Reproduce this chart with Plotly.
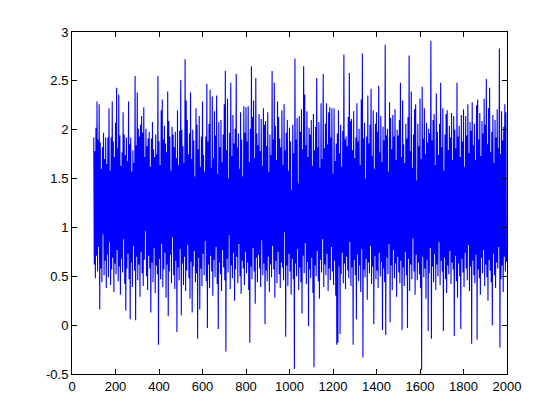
import numpy as np
import plotly.graph_objects as go

# Sample window: 100 .. 2000, read column by column as (upper, lower) envelope values
x_start = 100
x_step = 5

highs = [
    1.92, 1.78, 2.02, 2.29, 1.90, 2.26, 1.87, 1.60, 1.82, 1.97, 1.70, 1.92, 1.65, 1.92, 2.22, 1.58, 1.92, 2.29, 1.88, 1.72,
    2.07, 2.43, 1.81, 2.36, 1.94, 1.63, 1.77, 2.18, 1.95, 1.74, 1.92, 1.68, 2.29, 1.85, 1.92, 1.57, 1.79, 1.66, 2.55, 1.84,
    2.38, 2.01, 1.93, 2.05, 2.14, 1.97, 2.23, 1.72, 2.01, 1.83, 1.91, 1.98, 1.62, 1.91, 2.08, 1.80, 1.72, 1.95, 1.75, 2.55,
    1.88, 1.64, 2.20, 2.31, 1.90, 2.04, 1.86, 1.77, 2.39, 2.09, 1.93, 1.58, 2.03, 1.95, 1.82, 1.98, 1.71, 2.20, 1.64, 1.99,
    2.51, 2.00, 1.83, 1.66, 2.72, 2.30, 2.10, 1.75, 1.96, 2.38, 1.70, 2.00, 1.89, 1.52, 2.22, 2.05, 1.80, 2.14, 1.62, 1.93,
    2.29, 1.74, 1.57, 1.93, 2.47, 1.88, 2.06, 2.41, 1.61, 2.34, 1.71, 2.19, 1.94, 2.35, 1.55, 2.08, 1.82, 2.10, 1.67, 1.95,
    2.26, 2.60, 1.79, 2.32, 1.50, 1.97, 2.48, 1.73, 2.15, 1.86, 2.01, 2.57, 1.82, 1.96, 1.60, 2.18, 1.90, 1.52, 2.24, 1.97,
    2.23, 1.88, 2.24, 1.67, 2.01, 2.65, 2.13, 2.30, 1.71, 2.53, 1.96, 1.84, 2.16, 1.78, 2.11, 1.63, 2.22, 2.05, 2.09, 1.83,
    2.18, 1.57, 1.95, 1.74, 2.60, 1.90, 2.48, 2.04, 1.69, 2.29, 2.13, 1.91, 1.82, 2.20, 1.64, 2.26, 1.79, 1.97, 2.10, 1.58,
    2.02, 1.88, 1.38, 2.05, 1.76, 2.73, 1.90, 2.12, 1.45, 2.14, 1.98, 2.21, 1.80, 2.65, 2.36, 1.84, 2.19, 1.72, 2.02, 1.95,
    2.10, 1.63, 2.16, 1.79, 2.03, 2.53, 1.82, 2.08, 1.61, 2.27, 1.70, 2.57, 1.81, 2.06, 2.27, 1.85, 2.18, 2.23, 1.92, 2.22,
    1.55, 2.22, 1.68, 1.86, 1.96, 2.20, 1.76, 2.05, 1.62, 1.99, 2.77, 1.90, 1.93, 1.83, 2.13, 2.58, 2.09, 2.11, 1.79, 2.19,
    1.71, 1.92, 2.27, 1.88, 2.01, 1.64, 2.31, 2.78, 1.91, 2.07, 1.50, 1.93, 2.35, 1.86, 2.05, 2.42, 1.73, 2.20, 1.60, 2.06,
    2.18, 1.98, 2.45, 1.77, 2.14, 1.67, 2.03, 1.89, 2.87, 1.94, 2.01, 1.57, 2.28, 2.12, 1.80, 2.15, 1.93, 2.21, 1.69, 2.00,
    1.94, 2.10, 2.48, 1.72, 2.30, 1.85, 1.66, 2.06, 1.91, 2.13, 2.76, 1.78, 2.39, 1.61, 1.95, 2.21, 2.26, 1.48, 2.06, 1.83,
    2.32, 1.70, 2.44, 1.91, 2.22, 1.75, 2.07, 1.87, 2.01, 1.96, 2.91, 1.89, 2.10, 2.16, 1.64, 2.37, 1.98, 1.74, 2.06, 2.48,
    1.82, 2.22, 1.58, 1.95, 2.16, 2.20, 1.79, 2.04, 1.92, 2.17, 1.69, 2.14, 2.00, 1.81, 2.48, 1.93, 2.04, 1.72, 2.15, 1.88,
    2.21, 1.62, 2.14, 1.94, 2.26, 1.76, 2.08, 1.99, 2.28, 1.84, 2.06, 1.69, 2.25, 2.31, 1.90, 2.17, 1.73, 2.09, 1.96, 2.32,
    2.05, 2.52, 1.85, 2.22, 2.43, 1.77, 1.98, 2.15, 1.66, 2.10, 1.92, 2.21, 1.81, 2.83, 1.75, 2.19, 1.89, 2.03, 2.26, 2.18,
]

lows = [
    0.62, 0.48, 0.71, 0.55, 0.80, 0.16, 0.58, 0.44, 0.93, 0.51, 0.66, 0.38, 0.72, 0.49, 0.85, 0.41, 0.57, 0.69, 0.34, 0.63,
    0.52, 0.77, 0.45, 0.60, 0.31, 0.68, 0.54, 0.88, 0.42, 0.15, 0.58, 0.73, 0.47, 0.06, 0.64, 0.39, 0.81, 0.56, 0.05, 0.70,
    0.46, 0.62, 0.29, 0.75, 0.53, 0.40, 0.67, 0.96, 0.50, 0.36, 0.71, 0.58, 0.13, 0.64, 0.44, 0.79, 0.33, 0.61, 0.52, -0.20,
    0.68, 0.47, 0.83, 0.39, 0.57, 0.74, 0.28, 0.62, 0.09, 0.55, 0.72, 0.43, 0.90, 0.51, 0.37, 0.66, -0.07, 0.59, 0.46, 0.78,
    0.10, 0.63, 0.41, 0.70, 0.35, 0.56, 0.82, 0.48, 0.27, 0.65, 0.13, 0.60, 0.76, 0.44, 0.53, -0.14, 0.69, 0.16, 0.58, 0.40,
    0.73, 0.51, 0.86, 0.45, -0.03, 0.62, 0.38, 0.71, 0.55, 0.30, 0.67, 0.49, 0.80, 0.42, -0.04, 0.64, 0.52, 0.35, 0.77, 0.59,
    0.46, -0.27, 0.68, 0.54, 0.92, 0.37, 0.61, 0.48, 0.74, 0.25, 0.57, 0.70, 0.43, 0.83, 0.50, 0.32, 0.66, 0.58, 0.41, 0.75,
    0.53, 0.64, 0.36, -0.18, 0.60, 0.47, 0.79, 0.55, 0.22, 0.69, 0.44, 0.72, 0.58, 0.39, 0.87, 0.51, 0.63, 0.01, 0.56, 0.45,
    0.70, 0.34, 0.62, 0.49, 0.81, 0.57, 0.28, 0.66, 0.43, 0.75, 0.52, 0.38, 0.64, 0.59, 0.46, 0.95, -0.12, 0.61, 0.40, 0.73,
    0.55, 0.31, 0.68, 0.47, -0.45, 0.63, 0.50, 0.78, 0.36, 0.59, 0.44, 0.12, 0.71, 0.53, 0.84, 0.42, 0.65, -0.01, 0.57, 0.48,
    0.69, 0.33, -0.43, 0.61, 0.50, 0.76, 0.45, 0.27, 0.67, 0.54, 0.88, 0.39, 0.62, 0.51, 0.73, 0.35, 0.58, 0.46, 0.80, 0.55,
    0.41, 0.66, 0.30, -0.20, -0.18, 0.60, -0.09, 0.52, 0.74, 0.43, 0.63, 0.37, 0.70, 0.56, 0.48, 0.85, 0.40, 0.59, -0.20, 0.67,
    0.51, 0.06, 0.72, 0.45, 0.61, 0.34, 0.78, -0.33, 0.57, 0.49, 0.68, 0.26, 0.64, 0.53, 0.81, 0.42, 0.60, 0.01, 0.71, 0.47,
    0.56, 0.38, 0.74, 0.50, 0.65, -0.05, 0.58, 0.44, -0.10, 0.69, 0.52, 0.83, 0.03, 0.61, 0.36, 0.77, 0.48, 0.63, 0.29, 0.70,
    0.54, 0.43, 0.66, -0.05, 0.59, 0.40, 0.75, 0.51, -0.03, 0.68, 0.35, 0.62, 0.47, 0.89, 0.55, 0.31, 0.72, 0.46, 0.64, 0.52,
    0.38, -0.46, 0.70, 0.49, 0.58, 0.27, 0.67, -0.06, 0.53, 0.79, -0.14, 0.60, 0.44, 0.73, 0.36, 0.62, 0.50, 0.85, 0.41, 0.66,
    0.55, -0.06, 0.69, 0.47, 0.33, 0.61, 0.52, 0.76, 0.42, 0.64, 0.57, -0.11, 0.71, 0.45, 0.28, 0.63, 0.50, -0.04, 0.68, 0.54,
    0.39, 0.74, 0.58, 0.46, 0.82, 0.35, 0.60, -0.19, 0.66, 0.51, 0.43, 0.72, -0.15, 0.57, 0.48, 0.31, 0.69, 0.53, 0.77, 0.40,
    0.62, 0.49, 0.25, 0.67, 0.56, 0.44, 0.00, 0.73, 0.51, 0.38, 0.64, 0.58, 0.80, -0.23, 0.47, 0.61, 0.34, 0.70, 0.55, 0.65,
]

x_tick_vals = [0, 200, 400, 600, 800, 1000, 1200, 1400, 1600, 1800, 2000]
x_tick_text = ["0", "200", "400", "600", "800", "1000", "1200", "1400", "1600", "1800", "2000"]
y_tick_vals = [-0.5, 0, 0.5, 1, 1.5, 2, 2.5, 3]
y_tick_text = ["-0.5", "0", "0.5", "1", "1.5", "2", "2.5", "3"]

# Interleave upper and lower envelope samples along the index axis
n = len(highs)
idx = np.arange(n)
x_hi = x_start + x_step * idx
x_lo = x_hi + x_step / 2
xs = np.empty(2 * n)
ys = np.empty(2 * n)
xs[0::2] = x_hi
xs[1::2] = x_lo
ys[0::2] = highs
ys[1::2] = lows

fig = go.Figure()
fig.add_trace(go.Scatter(
    x=xs, y=ys, mode="lines",
    line=dict(color="#0000FF", width=1.1),
    hoverinfo="skip", showlegend=False,
))

axis_common = dict(
    showline=True, linecolor="black", linewidth=1, mirror="ticks",
    ticks="inside", ticklen=5, tickcolor="black", tickwidth=1,
    showgrid=False, zeroline=False, automargin=False,
    tickfont=dict(family="Liberation Sans, Arial, sans-serif", size=13, color="black"),
)

# The page body adds an 8px offset, so the figure is 8px smaller on each axis
fig.update_layout(
    width=552, height=412,
    margin=dict(l=64, r=53, t=24, b=46),
    paper_bgcolor="white", plot_bgcolor="white",
    xaxis=dict(range=[0, 2000], tickvals=x_tick_vals, ticktext=x_tick_text, **axis_common),
    yaxis=dict(range=[-0.5, 3], tickvals=y_tick_vals, ticktext=y_tick_text, **axis_common),
)

fig.write_html("out.html")
